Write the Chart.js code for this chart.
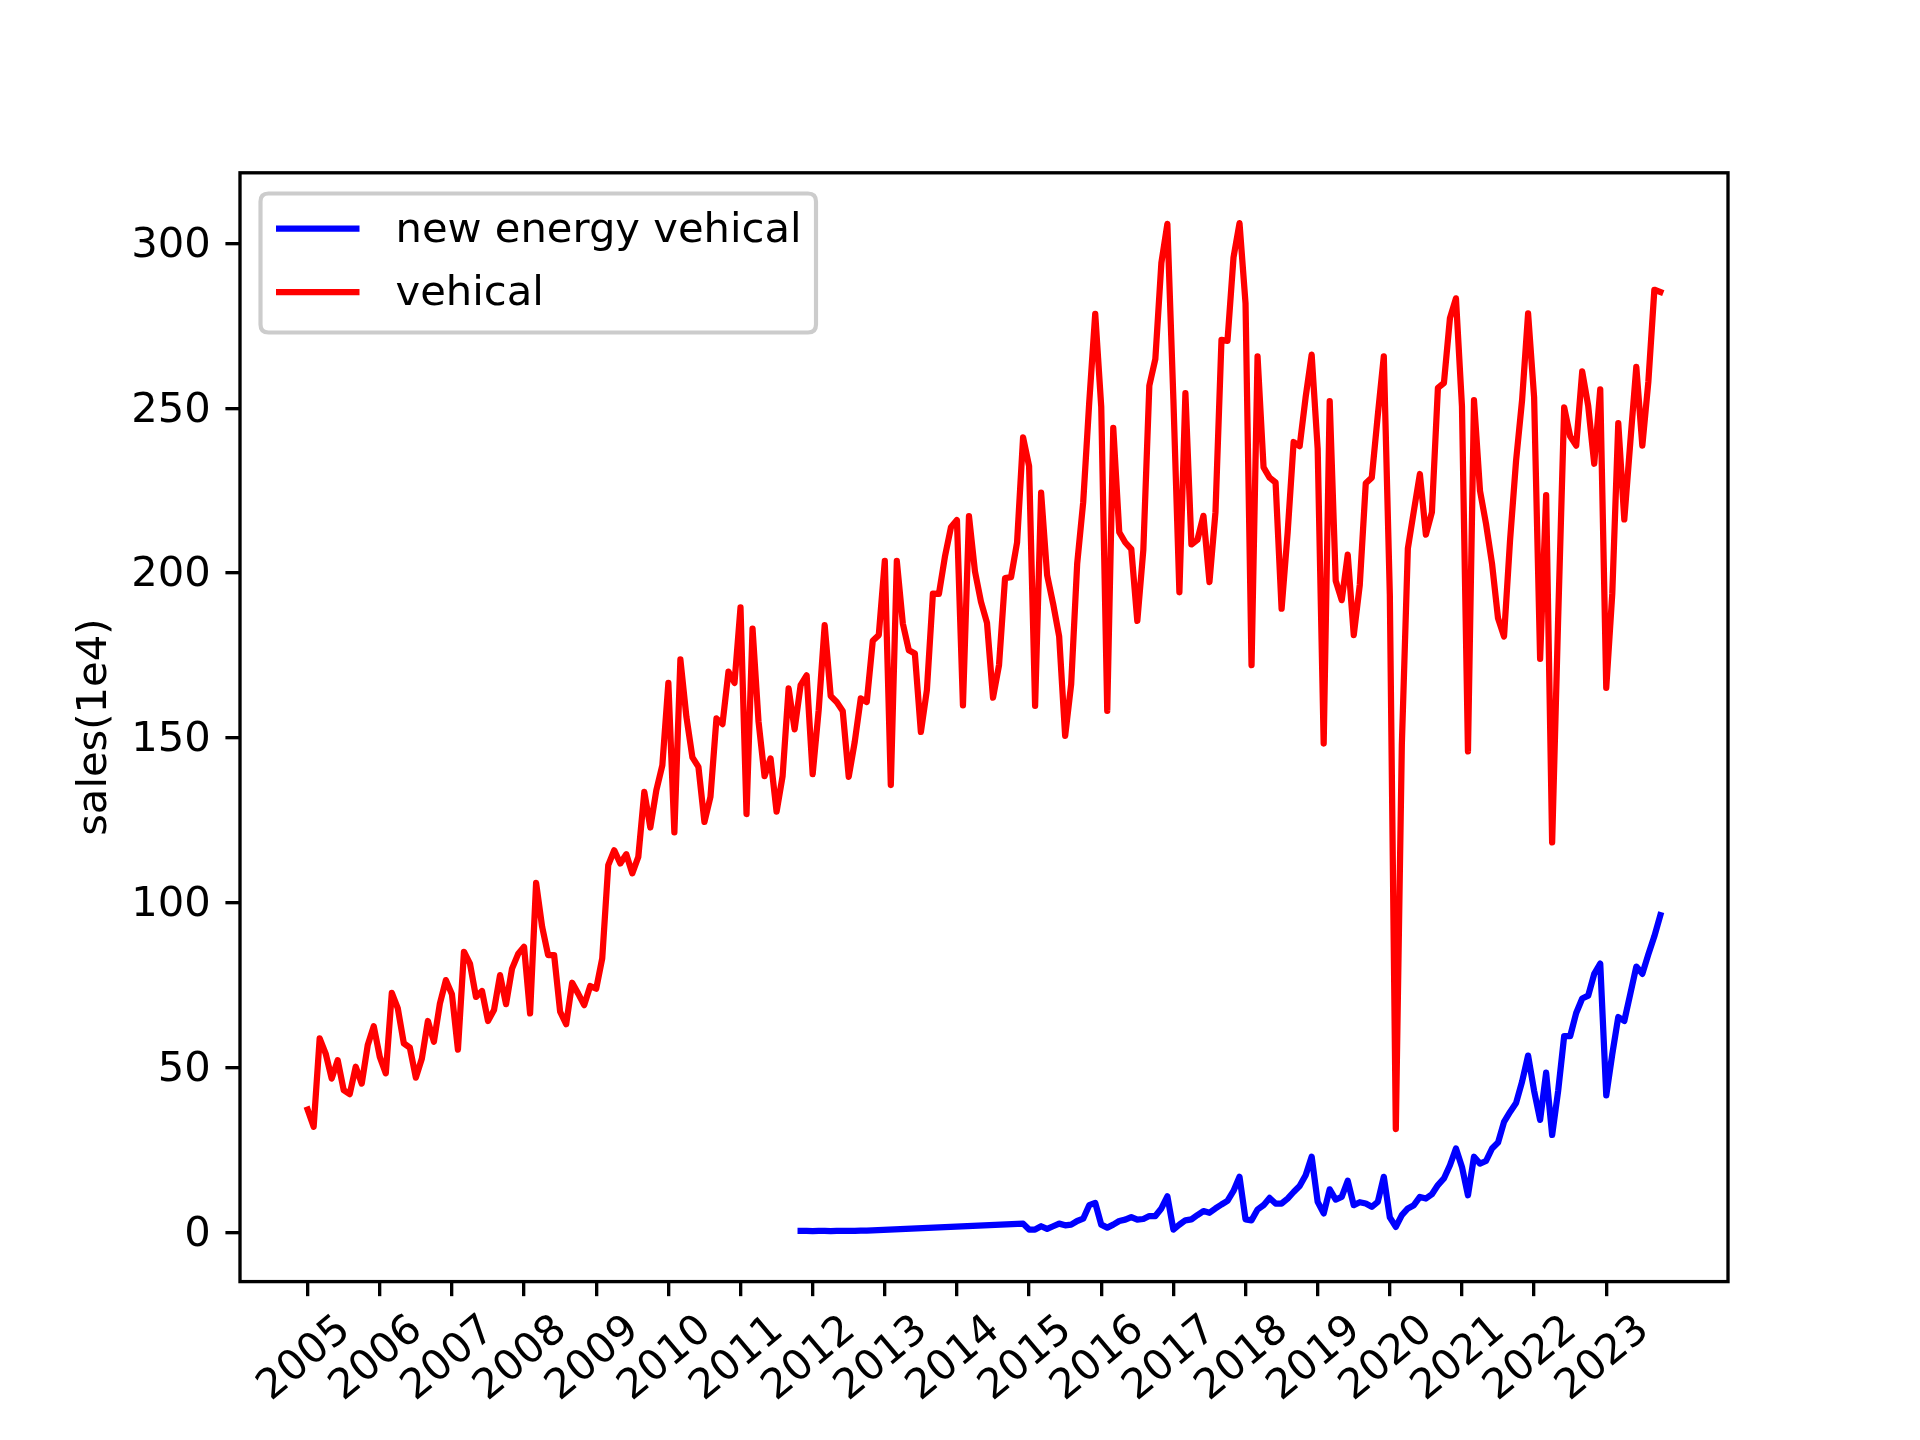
<!DOCTYPE html>
<html>
<head>
<meta charset="utf-8">
<script src="https://cdn.jsdelivr.net/npm/chart.js@4.4.0/dist/chart.umd.min.js"></script>
<style>
html, body { margin: 0; padding: 0; background: #ffffff; overflow: hidden; }
#wrap { width: 1920px; height: 1440px; }
</style>
</head>
<body>
<div id="wrap"><canvas id="c" width="1920" height="1440"></canvas></div>
<script>
// ---- data (monthly, first month of vehicle series = 2005-01) ----
const firstYear = 2005;
const vehicleStart = '2005-01';
const vehicleSales = [
  37.2, 32.0, 58.8, 54.2, 46.6, 52.2, 43.1, 41.9, 50.2, 45.1, 56.8, 62.5,
  53.2, 48.2, 72.6, 67.9, 57.3, 56.0, 46.9, 52.7, 64.1, 57.8, 69.4, 76.5,
  72.2, 55.4, 85.1, 81.5, 71.4, 73.2, 64.1, 67.4, 78.0, 69.2, 80.0, 84.4,
  86.6, 66.4, 106.0, 92.7, 84.1, 84.1, 66.9, 63.1, 75.7, 72.4, 68.9, 74.7,
  73.9, 83.1, 111.4, 115.9, 111.9, 114.7, 108.9, 113.9, 133.6, 122.8, 134.1, 141.7,
  166.7, 121.3, 173.8, 156.4, 144.1, 141.2, 124.5, 132.1, 155.9, 154.2, 170.1, 166.7,
  189.6, 126.9, 183.2, 154.9, 138.4, 143.8, 127.6, 138.4, 165.0, 152.6, 166.0, 169.0,
  139.0, 158.4, 184.2, 162.7, 160.9, 158.2, 138.2, 148.8, 162.0, 160.9, 179.5, 181.2,
  203.7, 135.7, 203.7, 184.7, 176.6, 175.6, 151.8, 164.5, 193.8, 193.7, 205.0, 213.9,
  216.1, 159.9, 217.3, 200.5, 191.3, 184.9, 162.2, 172.1, 198.5, 198.8, 209.3, 241.2,
  232.5, 159.7, 224.4, 199.4, 190.7, 180.8, 150.6, 166.3, 202.9, 221.5, 251.7, 278.7,
  250.5, 158.2, 244.1, 212.4, 209.3, 207.3, 185.5, 207.0, 256.9, 265.0, 294.1, 306.0,
  252.8, 194.2, 254.6, 208.7, 210.1, 217.4, 197.3, 218.5, 270.8, 270.5, 295.8, 306.2,
  281.9, 172.1, 265.8, 232.1, 229.0, 227.5, 189.2, 212.2, 239.8, 238.5, 253.4, 266.3,
  237.8, 148.3, 252.2, 197.7, 191.8, 205.6, 181.2, 196.4, 227.3, 229.0, 247.9, 265.8,
  193.7, 31.3, 148.0, 207.5, 218.9, 230.1, 211.7, 218.5, 256.2, 257.7, 277.4, 283.4,
  250.7, 145.9, 252.5, 225.0, 215.0, 202.9, 186.3, 180.8, 210.0, 234.1, 252.5, 278.8,
  253.4, 174.0, 223.7, 118.3, 186.3, 250.3, 241.5, 238.7, 261.2, 250.7, 233.2, 255.8,
  165.2, 193.7, 245.5, 216.3, 239.7, 262.6, 238.7, 258.0, 286.0, 285.3
];
// new energy vehicle series starts 2011-11; null = month missing in the source
const nevStart = '2011-11';
const nevSales = [
  0.4, 0.4, 0.3, 0.4, 0.4, 0.3, 0.4, 0.4, 0.4, 0.4, 0.5, 0.5,
  null, null, null, null, null, null, null, null, null, null, null, null,
  null, null, null, null, null, null, null, null, null, null, null, null,
  null, 2.6,
  0.8, 0.8, 1.8, 1.0, 1.8, 2.6, 2.1, 2.3, 3.4, 4.1, 8.2, 8.9,
  2.3, 1.4, 2.3, 3.4, 3.8, 4.6, 3.8, 4.0, 4.9, 4.9, 7.2, 10.9,
  0.8, 2.3, 3.6, 3.9, 5.2, 6.4, 5.9, 7.2, 8.4, 9.5, 12.5, 16.8,
  3.9, 3.6, 6.9, 8.2, 10.4, 8.7, 8.7, 10.2, 12.2, 14.0, 17.3, 22.9,
  9.2, 5.7, 13.0, 9.9, 10.7, 15.6, 8.2, 9.1, 8.7, 7.7, 9.2, 16.8,
  4.5, 1.6, 5.2, 7.2, 8.2, 10.7, 10.2, 11.5, 14.3, 16.3, 20.3, 25.4,
  19.8, 11.2, 22.9, 20.8, 21.6, 25.4, 27.2, 33.5, 36.5, 39.2, 45.7, 53.6,
  42.9, 34.1, 48.4, 29.5, 42.9, 59.5, 59.5, 66.5, 70.9, 71.8, 78.4, 81.5,
  41.5, 54.0, 65.3, 64.1, 72.3, 80.6, 78.4, 84.3, 89.8, 96.2
];
const yearTicks = ['2005','2006','2007','2008','2009','2010','2011','2012','2013','2014',
                   '2015','2016','2017','2018','2019','2020','2021','2022','2023'];
const yTicks = [0, 50, 100, 150, 200, 250, 300];
const seriesNames = ['new energy vehical', 'vehical'];
const seriesColors = ['#0000ff', '#ff0000'];
const yLabel = 'sales(1e4)';

// ---- helpers ----
function monthIndex(ym) {
  const [y, m] = ym.split('-').map(Number);
  return (y - firstYear) * 12 + (m - 1);
}
function toPoints(start, arr) {
  const s = monthIndex(start);
  return arr.map((v, i) => ({ x: s + i, y: v }));
}
const vehPts = toPoints(vehicleStart, vehicleSales);
const nevPts = toPoints(nevStart, nevSales);

// matplotlib-like 5% margins
const xs = vehPts.map(p => p.x).concat(nevPts.map(p => p.x));
const allY = vehicleSales.concat(nevSales.filter(v => v !== null));
const xMinD = Math.min(...xs), xMaxD = Math.max(...xs);
const yMinD = Math.min(...allY), yMaxD = Math.max(...allY);
const xPad = (xMaxD - xMinD) * 0.05, yPad = (yMaxD - yMinD) * 0.05;

const DPI = 300 / 72;
const FS = 10 * DPI;          // 10pt font
const LW = 1.5 * DPI;         // line width
const AXW = 0.8 * DPI;        // spine width
const TICKL = 3.5 * DPI;      // tick length
const FONT = '"DejaVu Sans", "Liberation Sans", sans-serif';

const frameAndLabels = {
  id: 'frameAndLabels',
  afterDraw(chart) {
    const { ctx, chartArea: a } = chart;
    const sx = chart.scales.x;
    ctx.save();
    // axes frame
    ctx.strokeStyle = '#000';
    ctx.lineWidth = AXW;
    ctx.strokeRect(a.left, a.top, a.right - a.left, a.bottom - a.top);
    // rotated x tick labels (centered like matplotlib)
    ctx.fillStyle = '#000';
    ctx.font = FS + 'px ' + FONT;
    ctx.textAlign = 'center';
    ctx.textBaseline = 'middle';
    const ang = 40 * Math.PI / 180;
    yearTicks.forEach((lab) => {
      const px = sx.getPixelForValue((Number(lab) - firstYear) * 12);
      ctx.save();
      ctx.translate(px - 3, a.bottom + 77.5);
      ctx.rotate(-ang);
      ctx.fillText(lab, 0, 0);
      ctx.restore();
    });
    // legend
    const lx = 260.5, ly = 193.5, lw = 555.5, lh = 139, r = 8;
    ctx.beginPath();
    ctx.moveTo(lx + r, ly);
    ctx.lineTo(lx + lw - r, ly);
    ctx.quadraticCurveTo(lx + lw, ly, lx + lw, ly + r);
    ctx.lineTo(lx + lw, ly + lh - r);
    ctx.quadraticCurveTo(lx + lw, ly + lh, lx + lw - r, ly + lh);
    ctx.lineTo(lx + r, ly + lh);
    ctx.quadraticCurveTo(lx, ly + lh, lx, ly + lh - r);
    ctx.lineTo(lx, ly + r);
    ctx.quadraticCurveTo(lx, ly, lx + r, ly);
    ctx.closePath();
    ctx.fillStyle = 'rgba(255,255,255,0.8)';
    ctx.fill();
    ctx.strokeStyle = '#cccccc';
    ctx.lineWidth = 1.0 * DPI;
    ctx.stroke();
    const rowsY = [228.7, 292.0];
    seriesNames.forEach((name, i) => {
      ctx.beginPath();
      ctx.strokeStyle = seriesColors[i];
      ctx.lineWidth = LW;
      ctx.lineCap = 'butt';
      ctx.moveTo(276, rowsY[i]);
      ctx.lineTo(359.5, rowsY[i]);
      ctx.stroke();
      ctx.fillStyle = '#000';
      ctx.textAlign = 'left';
      ctx.textBaseline = 'middle';
      ctx.fillText(name, 395.5, rowsY[i] + 2);
    });
    ctx.restore();
  }
};

new Chart(document.getElementById('c'), {
  type: 'line',
  data: {
    datasets: [
      {
        label: seriesNames[1], data: vehPts, borderColor: seriesColors[1],
        borderWidth: LW, pointRadius: 0, tension: 0, fill: false,
        borderCapStyle: 'square', borderJoinStyle: 'round', order: 0
      },
      {
        label: seriesNames[0], data: nevPts, borderColor: seriesColors[0],
        borderWidth: LW, pointRadius: 0, tension: 0, fill: false, spanGaps: true,
        borderCapStyle: 'square', borderJoinStyle: 'round', order: 1
      }
    ]
  },
  options: {
    responsive: false,
    animation: false,
    devicePixelRatio: 1,
    layout: { padding: { left: 0, top: 172.8, right: 1920 - 1728, bottom: 0 } },
    plugins: { legend: { display: false }, tooltip: { enabled: false }, title: { display: false } },
    scales: {
      x: {
        type: 'linear',
        min: xMinD - xPad,
        max: xMaxD + xPad,
        afterBuildTicks: (s) => { s.ticks = yearTicks.map(t => ({ value: (Number(t) - firstYear) * 12 })); },
        afterFit: (s) => { s.height = 1440 - 1281.6; },
        ticks: { display: false },
        grid: { display: true, drawOnChartArea: false, drawTicks: true, tickLength: TICKL,
                tickWidth: AXW, tickColor: '#000', color: '#000', lineWidth: AXW },
        border: { display: false }
      },
      y: {
        type: 'linear',
        min: yMinD - yPad,
        max: yMaxD + yPad,
        afterBuildTicks: (s) => { s.ticks = yTicks.map(v => ({ value: v })); },
        afterFit: (s) => { s.width = 240; },
        ticks: { color: '#000', font: { family: FONT, size: FS }, padding: TICKL, labelOffset: 2.5 },
        grid: { display: true, drawOnChartArea: false, drawTicks: true, tickLength: TICKL,
                tickWidth: AXW, tickColor: '#000', color: '#000', lineWidth: AXW },
        border: { display: false },
        title: { display: true, text: yLabel, color: '#000', font: { family: FONT, size: FS },
                 padding: { top: 70, bottom: 0 } }
      }
    }
  },
  plugins: [frameAndLabels]
});
</script>
</body>
</html>
